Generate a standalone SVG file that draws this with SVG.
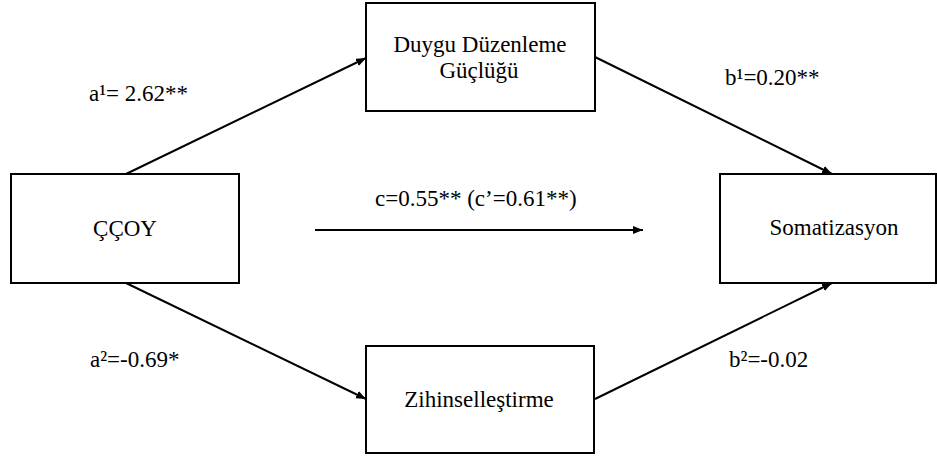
<svg xmlns="http://www.w3.org/2000/svg" width="937" height="457" viewBox="0 0 937 457">
<style>
text { font-family: "Liberation Serif", "Times New Roman", serif; font-size: 23px; fill: #000; }
.box { fill: #fff; stroke: #000; stroke-width: 2; }
.edge { stroke: #000; stroke-width: 2; fill: none; marker-end: url(#arr); }
</style>
<defs>
<marker id="arr" markerUnits="userSpaceOnUse" markerWidth="12" markerHeight="10" refX="10" refY="4" orient="auto">
<path d="M0,0 L10,4 L0,8 Z" fill="#000"/>
</marker>
</defs>
<rect width="937" height="457" fill="#fff"/>
<g id="connectors">
<line class="edge" x1="126" y1="174" x2="366" y2="58"/>
<line class="edge" x1="595" y1="57" x2="832" y2="174"/>
<line class="edge" x1="126" y1="283" x2="366" y2="399"/>
<line class="edge" x1="595" y1="399" x2="832" y2="283"/>
<line class="edge" x1="315" y1="230" x2="643" y2="230"/>
</g>
<g id="node-ccoy">
<rect class="box" x="11" y="174" width="228" height="109"/>
<text x="125" y="236" text-anchor="middle">ÇÇOY</text>
</g>
<g id="node-duygu">
<rect class="box" x="366" y="3" width="229" height="108"/>
<text x="480" y="52" text-anchor="middle">Duygu Düzenleme</text>
<text x="479" y="78" text-anchor="middle">Güçlüğü</text>
</g>
<g id="node-zihin">
<rect class="box" x="366" y="346" width="228" height="107"/>
<text x="479" y="407" text-anchor="middle">Zihinselleştirme</text>
</g>
<g id="node-somat">
<rect class="box" x="720" y="174" width="216" height="109"/>
<text x="834" y="235" text-anchor="middle">Somatizasyon</text>
</g>
<g id="labels">
<text x="89" y="101">a¹= 2.62**</text>
<text x="725" y="85">b¹=0.20**</text>
<text x="375" y="206">c=0.55** (c’=0.61**)</text>
<text x="90" y="367">a²=-0.69*</text>
<text x="729" y="367">b²=-0.02</text>
</g>
</svg>
